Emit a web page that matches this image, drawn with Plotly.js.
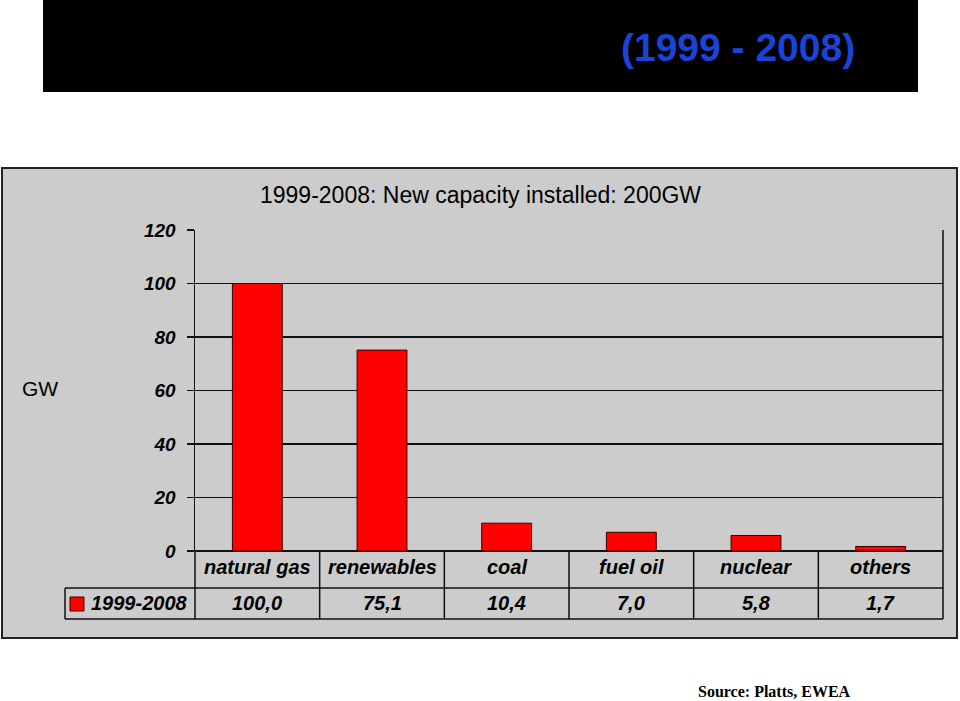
<!DOCTYPE html>
<html>
<head>
<meta charset="utf-8">
<script src="https://cdn.plot.ly/plotly-3.0.1.min.js"></script>
<style>html,body{margin:0;padding:0;background:#fff;}#chart{width:960px;height:701px;}</style>
</head>
<body>
<div id="chart"></div>
<script>
const categories = ["natural gas", "renewables", "coal", "fuel oil", "nuclear", "others"];
const values = [100.0, 75.1, 10.4, 7.0, 5.8, 1.7];
const seriesName = "1999-2008";
const yTicks = [0, 20, 40, 60, 80, 100, 120];
const chartTitle = "1999-2008: New capacity installed: 200GW";
const bannerTitle = "(1999 - 2008)";
const yLabel = "GW";
const sourceText = "Source: Platts, EWEA";

const W = 960, H = 701;
const L = 195, R = 943, T = 230, B = 551;
const px = x => (x - L) / (R - L);
const py = y => (B - y) / (B - T);
const ARIAL = "Liberation Sans, Arial, sans-serif";
const fmt = v => v.toFixed(1).replace('.', ',');

const shapes = [];
const line = (x0, y0, x1, y1, w) => shapes.push({type: 'line', xref: 'paper', yref: 'paper',
  x0: px(x0), y0: py(y0), x1: px(x1), y1: py(y1), line: {color: '#111', width: w || 1.5}});

// banner
shapes.push({type: 'rect', xref: 'paper', yref: 'paper', layer: 'below',
  x0: px(43), x1: px(918), y0: py(0), y1: py(92), fillcolor: '#000', line: {width: 0}});
// panel
shapes.push({type: 'rect', xref: 'paper', yref: 'paper', layer: 'below',
  x0: px(2), x1: px(957), y0: py(168), y1: py(638), fillcolor: '#cccccc', line: {color: '#222', width: 2}});

// table lines
const n = categories.length;
const colX = i => L + (R - L) * i / n;
line(65, 588, R, 588);
line(65, 619, R, 619);
line(65, 588, 65, 619);
line(R, T, R, 619);
for (let i = 0; i <= n - 1; i++) line(colX(i), B, colX(i), 619);

// legend key
shapes.push({type: 'rect', xref: 'paper', yref: 'paper',
  x0: px(70), x1: px(84), y0: py(597), y1: py(611), fillcolor: '#ff0000', line: {color: '#400', width: 1}});

const annotations = [];
const cellFont = {family: ARIAL, size: 20, color: '#000', weight: 'bold', style: 'italic'};
categories.forEach((c, i) => {
  annotations.push({xref: 'x', yref: 'paper', x: c, y: py(567), text: c, showarrow: false,
    xanchor: 'center', yanchor: 'middle', font: cellFont});
  annotations.push({xref: 'x', yref: 'paper', x: c, y: py(603), text: fmt(values[i]), showarrow: false,
    xanchor: 'center', yanchor: 'middle', font: cellFont});
});
annotations.push({xref: 'paper', yref: 'paper', x: px(89), y: py(603), text: seriesName, showarrow: false,
  xanchor: 'left', yanchor: 'middle', font: cellFont});
annotations.push({xref: 'paper', yref: 'paper', x: px(40), y: py(388), text: yLabel, showarrow: false,
  xanchor: 'center', yanchor: 'middle', font: {family: ARIAL, size: 21, color: '#000'}});
annotations.push({xref: 'paper', yref: 'paper', x: px(480), y: py(195), text: chartTitle, showarrow: false,
  xanchor: 'center', yanchor: 'middle', font: {family: ARIAL, size: 23, color: '#000'}});
annotations.push({xref: 'paper', yref: 'paper', x: px(857), y: py(48), text: bannerTitle, showarrow: false,
  xanchor: 'right', yanchor: 'middle', font: {family: ARIAL, size: 39, color: '#1a44d8', weight: 'bold'}});
annotations.push({xref: 'paper', yref: 'paper', x: px(853), y: py(691), text: sourceText, showarrow: false,
  xanchor: 'right', yanchor: 'middle', font: {family: "Liberation Serif, Times New Roman, serif", size: 16, color: '#000', weight: 'bold'}});

const trace = {
  type: 'bar', x: categories, y: values, name: seriesName,
  marker: {color: '#ff0000', line: {color: '#3a0000', width: 1}},
  width: 0.4, hoverinfo: 'x+y'
};

const layout = {
  width: W, height: H,
  margin: {l: L, r: W - R, t: T, b: H - B, pad: 0},
  paper_bgcolor: '#ffffff', plot_bgcolor: 'rgba(0,0,0,0)',
  showlegend: false,
  xaxis: {type: 'category', showticklabels: false, ticks: '', showgrid: false, zeroline: false,
    showline: false, range: [-0.5, n - 0.5], fixedrange: true},
  yaxis: {range: [0, 120], tickvals: yTicks, ticktext: yTicks.map(String),
    showgrid: true, gridcolor: '#111', gridwidth: 1.5, zeroline: true, zerolinecolor: '#111', zerolinewidth: 1.5,
    showline: true, linecolor: '#111', linewidth: 1.5, ticks: 'outside', ticklen: 7, tickcolor: '#111', tickwidth: 1.5,
    ticklabelstandoff: 7,
    tickfont: {family: ARIAL, size: 19, color: '#000', weight: 'bold', style: 'italic'}, fixedrange: true},
  shapes: shapes,
  annotations: annotations
};

Plotly.newPlot('chart', [trace], layout, {displayModeBar: false, staticPlot: true});
</script>
</body>
</html>
